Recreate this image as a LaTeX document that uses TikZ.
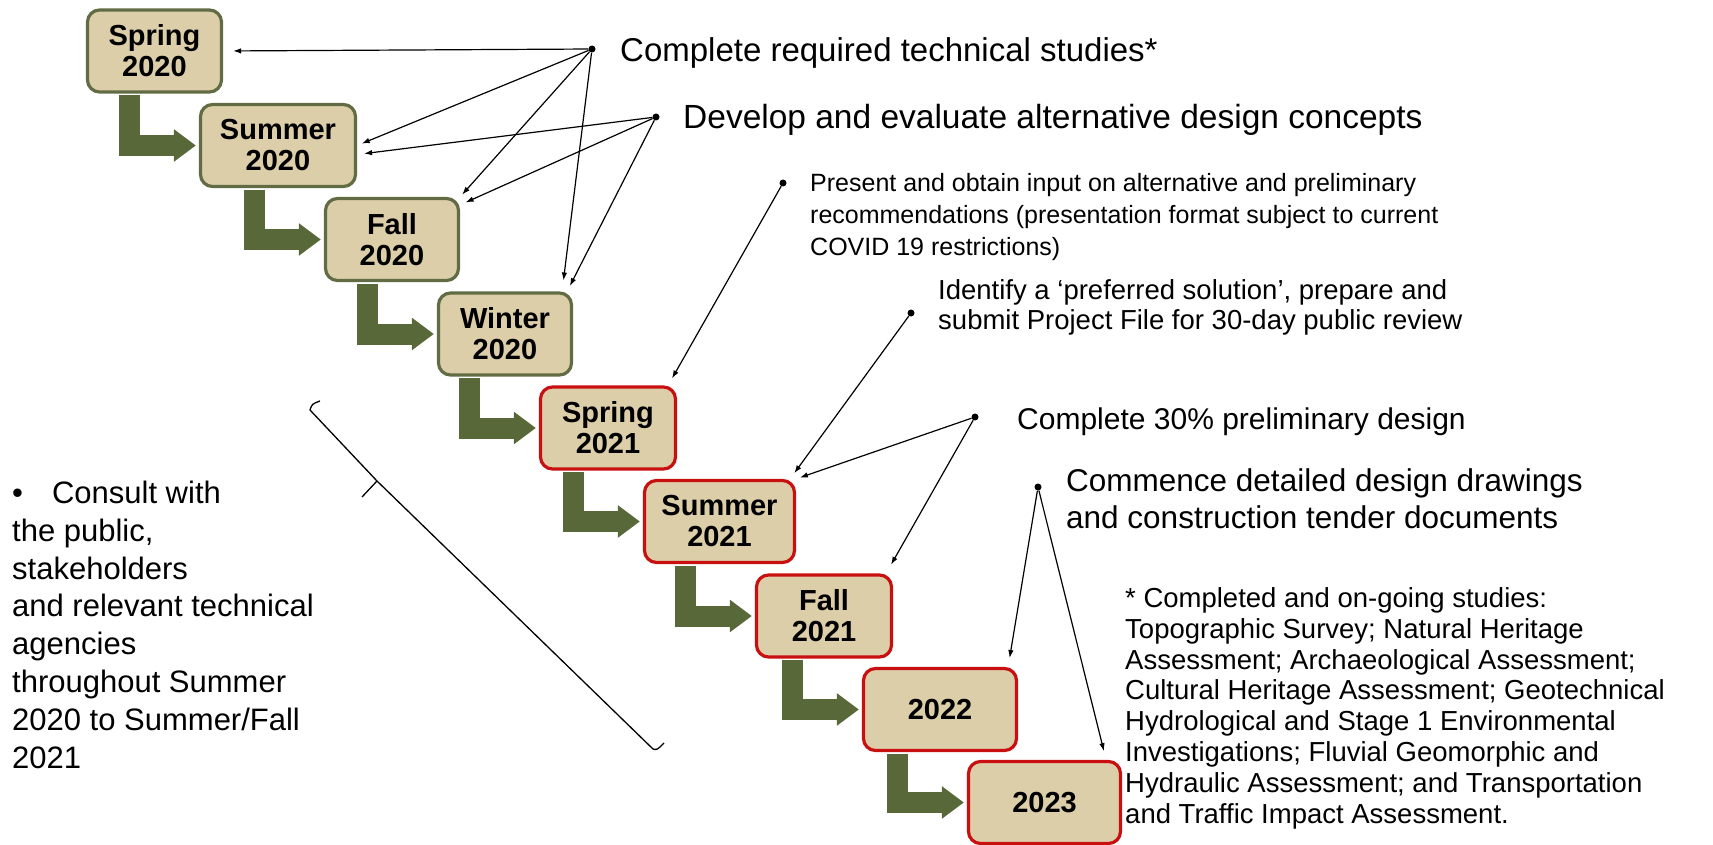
\documentclass[tikz,border=0pt]{standalone}
\usepackage{fontspec}
\setmainfont{Liberation Sans}
\usetikzlibrary{arrows.meta}

\definecolor{boxtan}{RGB}{221,206,170}
\definecolor{oldgreen}{RGB}{98,108,68}
\definecolor{newred}{RGB}{200,16,16}
\definecolor{elbowgreen}{RGB}{88,104,56}

\tikzset{
  season/.style={draw, line width=3.2pt, rounded corners=12pt, fill=boxtan,
    minimum height=82pt, inner sep=0pt, align=center,
    font=\bfseries\fontsize{29}{31}\selectfont},
  done/.style={season, draw=oldgreen},
  todo/.style={season, draw=newred},
  txt/.style={anchor=base west, inner sep=0pt, align=left},
  dot/.style={circle, fill=black, inner sep=0pt, minimum size=7pt},
  pointer/.style={line width=1.2pt, -{Latex[length=8pt,width=5.5pt]}},
  elbow/.style={line width=21pt, draw=elbowgreen, -{Triangle[length=22pt,width=31pt]}, shorten >=3pt}
}

\begin{document}
\begin{tikzpicture}[x=1pt, y=-1pt]

    % Fix the page to the size of the picture
    \useasboundingbox (0,0) rectangle (1713,845);

    % Season boxes, stepping down to the right
    \node[done, minimum width=134pt] (sp20) at (154.5,51)  {Spring\\2020};
    \node[done, minimum width=155pt] (su20) at (278,145.5) {Summer\\2020};
    \node[done, minimum width=133pt] (fa20) at (392,239.5) {Fall\\2020};
    \node[done, minimum width=133pt] (wi20) at (505,334)   {Winter\\2020};
    \node[todo, minimum width=135pt] (sp21) at (608,428)   {Spring\\2021};
    \node[todo, minimum width=150pt] (su21) at (719.5,521.5) {Summer\\2021};
    \node[todo, minimum width=135pt] (fa21) at (824,616)   {Fall\\2021};
    \node[todo, minimum width=153pt] (y22)  at (940,709.5) {2022};
    \node[todo, minimum width=152pt] (y23)  at (1044.5,802.5) {2023};

    % Bent green arrows from each box to the next one
    \foreach \a/\b in {sp20/su20, su20/fa20, fa20/wi20, wi20/sp21,
                       sp21/su21, su21/fa21, fa21/y22, y22/y23} {
        \path ([xshift=-69pt]\b.west) coordinate (k);
        \draw[elbow] ([yshift=-1.6pt]\a.south -| k) |- (\b.west);
    }

    % Task texts with their bullet dots (base = last line)
    \node[dot] (dstudy) at (592,49) {};
    \node[txt, font=\fontsize{33}{36}\selectfont] (study) at (620,62)
        {Complete required technical studies*};

    \node[dot] (ddevelop) at (656,117) {};
    \node[txt, font=\fontsize{33.5}{36}\selectfont] (develop) at (683,129)
        {Develop and evaluate alternative design concepts};

    \node[dot] (dpresent) at (783,183) {};
    \node[txt, font=\fontsize{25}{32}\selectfont] (present) at (810,255)
        {Present and obtain input on alternative and preliminary\\
         recommendations (presentation format subject to current\\
         COVID 19 restrictions)};

    \node[dot] (didentify) at (911,313) {};
    \node[txt, font=\fontsize{27.5}{30}\selectfont] (identify) at (938,329)
        {Identify a ‘preferred solution’, prepare and\\
         submit Project File for 30-day public review};

    \node[dot] (dprelim) at (975,417) {};
    \node[txt, font=\fontsize{30}{34}\selectfont] (prelim) at (1017,429)
        {Complete 30\% preliminary design};

    \node[dot] (ddetail) at (1038,487) {};
    \node[txt, font=\fontsize{31.5}{37}\selectfont] (detail) at (1066,528)
        {Commence detailed design drawings\\
         and construction tender documents};

    % Side note and footnote
    \node[txt, font=\fontsize{31}{37.8}\selectfont] (consult) at (12,768)
        {•\hspace{29pt}Consult with\\the public,\\stakeholders\\
         and relevant technical\\agencies\\throughout Summer\\
         2020 to Summer/Fall\\2021};

    \node[txt, font=\fontsize{27.5}{30.8}\selectfont] (note) at (1125,823)
        {* Completed and on-going studies:\\
         Topographic Survey; Natural Heritage\\
         Assessment; Archaeological Assessment;\\
         Cultural Heritage Assessment; Geotechnical\\
         Hydrological and Stage 1 Environmental\\
         Investigations; Fluvial Geomorphic and\\
         Hydraulic Assessment; and Transportation\\
         and Traffic Impact Assessment.};

    % Thin arrows from the tasks to their seasons
    \draw[pointer, shorten >=10pt] (dstudy) -- (sp20.east);
    \draw[pointer, shorten >=5pt]  (dstudy) -- (su20.east);
    \draw[pointer, shorten >=3pt]  (dstudy) -- (fa20.north east);
    \draw[pointer, shorten >=11pt] (dstudy) -- ([xshift=-11pt]wi20.north east);

    \draw[pointer, shorten >=7pt]  (ddevelop) -- ([yshift=-9pt]su20.east);
    \draw[pointer, shorten >=6pt]  (ddevelop) -- ([yshift=-8pt]fa20.north east);
    \draw[pointer, shorten >=6pt]  (ddevelop) -- ([xshift=-6pt]wi20.north east);

    \draw[pointer, shorten >=8pt]  (dpresent) -- ([xshift=-9pt]sp21.north east);
    \draw[pointer, shorten >=7pt]  (didentify) -- ([xshift=-6pt]su21.north east);

    \draw[pointer, shorten >=4pt]  (dprelim) -- (su21.north east);
    \draw[pointer, shorten >=10pt] (dprelim) -- ([xshift=-7pt]fa21.north east);

    \draw[pointer, shorten >=9pt]  (ddetail) -- ([xshift=-10pt]y22.north east);
    \draw[pointer, shorten >=9pt]  (ddetail) -- ([xshift=-16pt]y23.north east);

    % Slanted bracket over the consultation period
    \draw[line width=1.3pt] (320,401) .. controls (312,404) .. (310,410)
        -- (377,481) -- (653,749) .. controls (657,750) .. (664,743);
    \draw[line width=1.3pt] (377,481) -- (362,497);

\end{tikzpicture}
\end{document}
